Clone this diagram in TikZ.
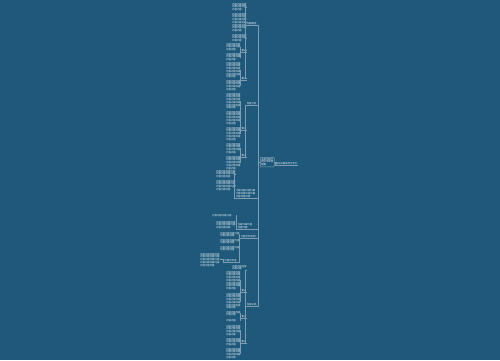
\documentclass[tikz,border=0pt]{standalone}
\usepackage{fontspec}
\newfontfamily\cjk{Noto Sans CJK SC}
\XeTeXlinebreaklocale "zh"
\XeTeXlinebreakskip=0pt plus 0.2pt
\usepackage{tikz}

\definecolor{bgc}{RGB}{30,88,122}
\definecolor{linec}{RGB}{128,156,174}
\definecolor{txtc}{RGB}{236,243,247}

\tikzset{
  link/.style={draw=linec,line width=0.5pt},
  leafbox/.style={font={\cjk\fontsize{2.4}{2.7}\selectfont},text=txtc,inner sep=0pt,align=left},
  topic/.style={font={\cjk\fontsize{2.4}{2.7}\selectfont},text=txtc,inner sep=0.4pt,align=left,
    append after command={(\tikzlastnode.south west) edge[link] (\tikzlastnode.south east)}},
  rootbox/.style={font={\cjk\fontsize{2.4}{2.7}\selectfont},text=txtc,draw=linec,line width=0.5pt,
    rounded corners=0.8pt,inner sep=1pt,align=left,text width=12pt}
}

% filler lines for the small text blocks
\newcommand\dummytext[1]{\foreach \k in {1,...,#1}{内容\hskip0pt plus .1pt}}
\newcommand\leaf[5]{% name, x, y, chars per line, lines
  \pgfmathsetmacro\leafw{#4*2.4+0.2}%
  \pgfmathtruncatemacro\leafn{#4*#5/2-1}%
  \node[leafbox,text width=\leafw pt,anchor=north west] (#1) at (#2,#3) {\dummytext{\leafn}};}

\begin{document}
\begin{tikzpicture}[x=1pt,y=-1pt]
  \fill[bgc] (0,0) rectangle (500,360);
  \useasboundingbox (0,0) rectangle (500,360);

  \node[rootbox,anchor=north west] (root) at (260,157) {主题内容示例文字说明概要};
  \node[topic,anchor=south west] (R) at (275,165) {相关内容说明文字示};
  \draw[link] (root.east) -- ++(1,0) |- (R.south west);

  % top part
  \node[topic,anchor=south east] (A) at (257,25) {内容概述};
  \leaf{a1}{232}{3}{6}{3}
  \leaf{a2}{232}{13}{6}{7}
  \leaf{a3}{232}{34}{6}{3}
  \node[topic,anchor=south east] (A1) at (247,52) {要点};
  \leaf{a11}{226}{43}{6}{3}
  \leaf{a12}{226}{53}{6}{3}
  \node[topic,anchor=south east] (A2) at (247,80) {要点};
  \leaf{a21}{226}{62}{6}{6}
  \leaf{a22}{226}{80}{6}{4}
  \node[topic,anchor=south east] (B) at (257,105) {内容分析};
  \node[topic,anchor=south east] (B1) at (247,130) {要点};
  \leaf{b11}{226}{93}{6}{6}
  \leaf{b12}{226}{111}{6}{5}
  \leaf{b13}{226}{127}{6}{5}
  \node[topic,anchor=south east] (B2) at (247,157) {要点};
  \leaf{b21}{226}{143}{6}{4}
  \leaf{b22}{226}{156}{6}{5}

  % middle part
  \node[topic,text width=19.4pt,anchor=south east] (C) at (256,198) {\dummytext{11}};
  \leaf{c1}{216}{170}{8}{3}
  \leaf{c2}{216}{180}{8}{4}
  \node[topic,text width=14.6pt,anchor=south east] (D) at (253,229) {\dummytext{5}};
  \leaf{d1}{212}{214}{10}{1}
  \leaf{d2}{216}{221}{8}{3}
  \node[topic,anchor=south east] (F) at (256,238) {内容示例说明};
  \leaf{f1}{220}{232}{8}{2}
  \leaf{f2}{220}{239}{8}{2}
  \leaf{f3}{220}{246}{8}{2}
  \node[topic,anchor=south east] (F1) at (237,262) {内容示例说};
  \leaf{f11}{200}{253}{8}{5}

  % bottom part
  \node[topic,anchor=south east] (E) at (257,306) {内容总结};
  \leaf{e0}{232}{265}{6}{2}
  \node[topic,anchor=south east] (E1) at (247,292) {要点};
  \leaf{e11}{226}{271}{6}{7}
  \leaf{e12}{226}{293}{6}{6}
  \node[topic,anchor=south east] (E2) at (247,318) {要点};
  \leaf{e21}{226}{311}{6}{2}
  \leaf{e22}{226}{319}{6}{1}
  \node[topic,anchor=south east] (E3) at (247,343) {要点};
  \leaf{e31}{226}{325}{6}{4}
  \leaf{e32}{226}{338}{6}{3}
  \leaf{e33}{226}{348}{6}{4}

  % connectors
  \foreach \c in {A,B,C,D,F,E}
    \draw[link] (root.west) -- ++(-2,0) |- (\c.south east);
  \foreach \c in {a1,a2,a3,A1,A2}
    \draw[link] (A.south west) -- ++(-1,0) |- (\c.east);
  \foreach \c in {a11,a12} \draw[link] (A1.south west) -- ++(-1,0) |- (\c.east);
  \foreach \c in {a21,a22} \draw[link] (A2.south west) -- ++(-1,0) |- (\c.east);
  \foreach \c in {B1,B2} \draw[link] (B.south west) -- ++(-1,0) |- (\c.south east);
  \foreach \c in {b11,b12,b13} \draw[link] (B1.south west) -- ++(-1,0) |- (\c.east);
  \foreach \c in {b21,b22} \draw[link] (B2.south west) -- ++(-1,0) |- (\c.east);
  \foreach \c in {c1,c2} \draw[link] (C.south west) -- ++(-1,0) |- (\c.east);
  \foreach \c in {d1,d2} \draw[link] (D.south west) -- ++(-1,0) |- (\c.east);
  \foreach \c in {f1,f2,f3} \draw[link] (F.south west) -- ++(-1,0) |- (\c.east);
  \draw[link] (F.south west) -- ++(-1,0) |- (F1.south east);
  \draw[link] (F1.south west) -- ++(-1,0) |- (f11.east);
  \foreach \c in {e0,E1,E2,E3} \draw[link] (E.south west) -- ++(-1,0) |- (\c.south east);
  \foreach \c in {e11,e12} \draw[link] (E1.south west) -- ++(-1,0) |- (\c.east);
  \foreach \c in {e21,e22} \draw[link] (E2.south west) -- ++(-1,0) |- (\c.east);
  \foreach \c in {e31,e32,e33} \draw[link] (E3.south west) -- ++(-1,0) |- (\c.east);
\end{tikzpicture}
\end{document}
